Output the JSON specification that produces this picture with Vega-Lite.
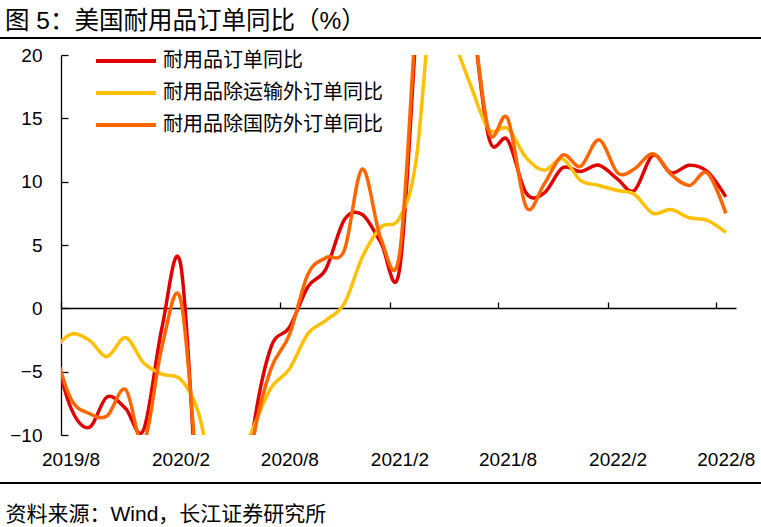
{
  "$schema": "https://vega.github.io/schema/vega-lite/v6.json",
  "autosize": {"type": "none"},
  "padding": {"left": 61, "top": 55, "right": 25, "bottom": 92},
  "width": 675,
  "height": 380,
  "background": "white",
  "title": {
    "text": "图 5：美国耐用品订单同比（%）",
    "anchor": "start",
    "frame": "group",
    "dx": -56,
    "offset": 3,
    "fontSize": 24.5,
    "fontWeight": "normal",
    "font": "'Liberation Sans', 'Noto Sans CJK SC'",
    "color": "black"
  },
  "config": {"view": {"stroke": null}},
  "data": {
    "format": {"parse": {"m": "date:'%Y-%m'"}},
    "values": [
      {"m": "2019-07", "s": "耐用品订单同比", "v": -2.5},
      {"m": "2019-08", "s": "耐用品订单同比", "v": -7.8},
      {"m": "2019-09", "s": "耐用品订单同比", "v": -9.4},
      {"m": "2019-10", "s": "耐用品订单同比", "v": -7.0},
      {"m": "2019-11", "s": "耐用品订单同比", "v": -7.9},
      {"m": "2019-12", "s": "耐用品订单同比", "v": -9.6},
      {"m": "2020-01", "s": "耐用品订单同比", "v": -1.5},
      {"m": "2020-02", "s": "耐用品订单同比", "v": 3.5},
      {"m": "2020-03", "s": "耐用品订单同比", "v": -16},
      {"m": "2020-04", "s": "耐用品订单同比", "v": -34},
      {"m": "2020-05", "s": "耐用品订单同比", "v": -22},
      {"m": "2020-06", "s": "耐用品订单同比", "v": -9.7},
      {"m": "2020-07", "s": "耐用品订单同比", "v": -3.1},
      {"m": "2020-08", "s": "耐用品订单同比", "v": -1.5},
      {"m": "2020-09", "s": "耐用品订单同比", "v": 1.7},
      {"m": "2020-10", "s": "耐用品订单同比", "v": 3.1},
      {"m": "2020-11", "s": "耐用品订单同比", "v": 7.0},
      {"m": "2020-12", "s": "耐用品订单同比", "v": 7.4},
      {"m": "2021-01", "s": "耐用品订单同比", "v": 5.2},
      {"m": "2021-02", "s": "耐用品订单同比", "v": 3.0},
      {"m": "2021-03", "s": "耐用品订单同比", "v": 22},
      {"m": "2021-04", "s": "耐用品订单同比", "v": 45},
      {"m": "2021-05", "s": "耐用品订单同比", "v": 35},
      {"m": "2021-06", "s": "耐用品订单同比", "v": 24},
      {"m": "2021-07", "s": "耐用品订单同比", "v": 13.4},
      {"m": "2021-08", "s": "耐用品订单同比", "v": 13.3},
      {"m": "2021-09", "s": "耐用品订单同比", "v": 9.1},
      {"m": "2021-10", "s": "耐用品订单同比", "v": 9.1},
      {"m": "2021-11", "s": "耐用品订单同比", "v": 11.1},
      {"m": "2021-12", "s": "耐用品订单同比", "v": 10.8},
      {"m": "2022-01", "s": "耐用品订单同比", "v": 11.3},
      {"m": "2022-02", "s": "耐用品订单同比", "v": 10.2},
      {"m": "2022-03", "s": "耐用品订单同比", "v": 9.3},
      {"m": "2022-04", "s": "耐用品订单同比", "v": 12.1},
      {"m": "2022-05", "s": "耐用品订单同比", "v": 10.7},
      {"m": "2022-06", "s": "耐用品订单同比", "v": 11.3},
      {"m": "2022-07", "s": "耐用品订单同比", "v": 10.8},
      {"m": "2022-08", "s": "耐用品订单同比", "v": 8.8},
      {"m": "2019-07", "s": "耐用品除运输外订单同比", "v": -3.5},
      {"m": "2019-08", "s": "耐用品除运输外订单同比", "v": -2.05},
      {"m": "2019-09", "s": "耐用品除运输外订单同比", "v": -2.5},
      {"m": "2019-10", "s": "耐用品除运输外订单同比", "v": -3.8},
      {"m": "2019-11", "s": "耐用品除运输外订单同比", "v": -2.3},
      {"m": "2019-12", "s": "耐用品除运输外订单同比", "v": -4.3},
      {"m": "2020-01", "s": "耐用品除运输外订单同比", "v": -5.2},
      {"m": "2020-02", "s": "耐用品除运输外订单同比", "v": -5.6},
      {"m": "2020-03", "s": "耐用品除运输外订单同比", "v": -8.1},
      {"m": "2020-04", "s": "耐用品除运输外订单同比", "v": -14},
      {"m": "2020-05", "s": "耐用品除运输外订单同比", "v": -13},
      {"m": "2020-06", "s": "耐用品除运输外订单同比", "v": -9.5},
      {"m": "2020-07", "s": "耐用品除运输外订单同比", "v": -6.3},
      {"m": "2020-08", "s": "耐用品除运输外订单同比", "v": -4.8},
      {"m": "2020-09", "s": "耐用品除运输外订单同比", "v": -2.0},
      {"m": "2020-10", "s": "耐用品除运输外订单同比", "v": -0.95},
      {"m": "2020-11", "s": "耐用品除运输外订单同比", "v": 0.4},
      {"m": "2020-12", "s": "耐用品除运输外订单同比", "v": 4.05},
      {"m": "2021-01", "s": "耐用品除运输外订单同比", "v": 6.4},
      {"m": "2021-02", "s": "耐用品除运输外订单同比", "v": 7.1},
      {"m": "2021-03", "s": "耐用品除运输外订单同比", "v": 11.7},
      {"m": "2021-04", "s": "耐用品除运输外订单同比", "v": 26},
      {"m": "2021-05", "s": "耐用品除运输外订单同比", "v": 21.5},
      {"m": "2021-06", "s": "耐用品除运输外订单同比", "v": 17.5},
      {"m": "2021-07", "s": "耐用品除运输外订单同比", "v": 14.1},
      {"m": "2021-08", "s": "耐用品除运输外订单同比", "v": 14.2},
      {"m": "2021-09", "s": "耐用品除运输外订单同比", "v": 11.9},
      {"m": "2021-10", "s": "耐用品除运输外订单同比", "v": 10.9},
      {"m": "2021-11", "s": "耐用品除运输外订单同比", "v": 11.8},
      {"m": "2021-12", "s": "耐用品除运输外订单同比", "v": 10.1},
      {"m": "2022-01", "s": "耐用品除运输外订单同比", "v": 9.7},
      {"m": "2022-02", "s": "耐用品除运输外订单同比", "v": 9.3},
      {"m": "2022-03", "s": "耐用品除运输外订单同比", "v": 9.0},
      {"m": "2022-04", "s": "耐用品除运输外订单同比", "v": 7.5},
      {"m": "2022-05", "s": "耐用品除运输外订单同比", "v": 7.8},
      {"m": "2022-06", "s": "耐用品除运输外订单同比", "v": 7.15},
      {"m": "2022-07", "s": "耐用品除运输外订单同比", "v": 6.95},
      {"m": "2022-08", "s": "耐用品除运输外订单同比", "v": 6.0},
      {"m": "2019-07", "s": "耐用品除国防外订单同比", "v": -2.5},
      {"m": "2019-08", "s": "耐用品除国防外订单同比", "v": -7.1},
      {"m": "2019-09", "s": "耐用品除国防外订单同比", "v": -8.3},
      {"m": "2019-10", "s": "耐用品除国防外订单同比", "v": -8.5},
      {"m": "2019-11", "s": "耐用品除国防外订单同比", "v": -6.4},
      {"m": "2019-12", "s": "耐用品除国防外订单同比", "v": -10.6},
      {"m": "2020-01", "s": "耐用品除国防外订单同比", "v": -3.0},
      {"m": "2020-02", "s": "耐用品除国防外订单同比", "v": 0.7},
      {"m": "2020-03", "s": "耐用品除国防外订单同比", "v": -14},
      {"m": "2020-04", "s": "耐用品除国防外订单同比", "v": -32},
      {"m": "2020-05", "s": "耐用品除国防外订单同比", "v": -22},
      {"m": "2020-06", "s": "耐用品除国防外订单同比", "v": -10.5},
      {"m": "2020-07", "s": "耐用品除国防外订单同比", "v": -4.8},
      {"m": "2020-08", "s": "耐用品除国防外订单同比", "v": -2.1},
      {"m": "2020-09", "s": "耐用品除国防外订单同比", "v": 2.7},
      {"m": "2020-10", "s": "耐用品除国防外订单同比", "v": 4.0},
      {"m": "2020-11", "s": "耐用品除国防外订单同比", "v": 4.6},
      {"m": "2020-12", "s": "耐用品除国防外订单同比", "v": 11.0},
      {"m": "2021-01", "s": "耐用品除国防外订单同比", "v": 5.5},
      {"m": "2021-02", "s": "耐用品除国防外订单同比", "v": 4.2},
      {"m": "2021-03", "s": "耐用品除国防外订单同比", "v": 23},
      {"m": "2021-04", "s": "耐用品除国防外订单同比", "v": 42},
      {"m": "2021-05", "s": "耐用品除国防外订单同比", "v": 33},
      {"m": "2021-06", "s": "耐用品除国防外订单同比", "v": 24},
      {"m": "2021-07", "s": "耐用品除国防外订单同比", "v": 13.9},
      {"m": "2021-08", "s": "耐用品除国防外订单同比", "v": 15.0},
      {"m": "2021-09", "s": "耐用品除国防外订单同比", "v": 8.0},
      {"m": "2021-10", "s": "耐用品除国防外订单同比", "v": 9.8},
      {"m": "2021-11", "s": "耐用品除国防外订单同比", "v": 12.1},
      {"m": "2021-12", "s": "耐用品除国防外订单同比", "v": 11.2},
      {"m": "2022-01", "s": "耐用品除国防外订单同比", "v": 13.3},
      {"m": "2022-02", "s": "耐用品除国防外订单同比", "v": 10.7},
      {"m": "2022-03", "s": "耐用品除国防外订单同比", "v": 11.0},
      {"m": "2022-04", "s": "耐用品除国防外订单同比", "v": 12.2},
      {"m": "2022-05", "s": "耐用品除国防外订单同比", "v": 10.6},
      {"m": "2022-06", "s": "耐用品除国防外订单同比", "v": 9.7},
      {"m": "2022-07", "s": "耐用品除国防外订单同比", "v": 10.7},
      {"m": "2022-08", "s": "耐用品除国防外订单同比", "v": 7.5}
    ]
  },
  "layer": [
    {
      "mark": {"type": "line", "interpolate": "cardinal", "tension": 0, "strokeWidth": 3.5, "clip": true},
      "encoding": {
        "x": {
          "field": "m",
          "type": "temporal",
          "scale": {"domain": [{"year": 2019, "month": 7, "date": 16}, {"year": 2022, "month": 8, "date": 18}]},
          "axis": {
            "orient": "bottom",
            "domain": false,
            "ticks": false,
            "grid": false,
            "values": [
              {"year": 2019, "month": 8, "date": 1},
              {"year": 2020, "month": 2, "date": 1},
              {"year": 2020, "month": 8, "date": 1},
              {"year": 2021, "month": 2, "date": 1},
              {"year": 2021, "month": 8, "date": 1},
              {"year": 2022, "month": 2, "date": 1},
              {"year": 2022, "month": 8, "date": 1}
            ],
            "format": "%Y/%-m",
            "labelFont": "Liberation Sans",
            "labelFontSize": 19,
            "labelColor": "black",
            "labelPadding": 15,
            "labelOverlap": false,
            "labelFlush": false,
            "title": "资料来源：Wind，长江证券研究所",
            "titleFont": "'Liberation Sans', 'Noto Sans CJK SC'",
            "titleFontSize": 21,
            "titleFontWeight": "normal",
            "titleColor": "black",
            "titleAnchor": "start",
            "titleAlign": "left",
            "titleBaseline": "alphabetic",
            "titleX": -56,
            "titleY": 85
          }
        },
        "y": {
          "field": "v",
          "type": "quantitative",
          "scale": {"domain": [-10, 20], "nice": false, "zero": false},
          "axis": {
            "title": null,
            "values": [-10, -5, 0, 5, 10, 15, 20],
            "grid": false,
            "domain": true,
            "domainColor": "black",
            "domainWidth": 1.3,
            "ticks": true,
            "tickSize": -7,
            "tickColor": "black",
            "tickWidth": 1.3,
            "labelFont": "Liberation Sans",
            "labelFontSize": 19,
            "labelColor": "black",
            "labelPadding": 26
          }
        },
        "color": {
          "field": "s",
          "type": "nominal",
          "sort": ["耐用品订单同比", "耐用品除运输外订单同比", "耐用品除国防外订单同比"],
          "scale": {
            "domain": ["耐用品订单同比", "耐用品除运输外订单同比", "耐用品除国防外订单同比"],
            "range": ["#E00000", "#FFC000", "#FF6600"]
          },
          "legend": {
            "title": null,
            "orient": "none",
            "legendX": 53,
            "legendY": -6,
            "padding": 0,
            "symbolType": "M-3,0H3",
            "symbolSize": 400,
            "symbolStrokeWidth": 4,
            "labelOffset": 25,
            "rowPadding": 10,
            "labelFont": "Noto Sans CJK SC",
            "labelFontSize": 20,
            "labelColor": "black",
            "labelLimit": 400
          }
        }
      }
    },
    {
      "mark": {"type": "rule", "clip": false, "color": "black", "strokeWidth": 1.3},
      "encoding": {
        "x": {
          "datum": {"year": 2019, "month": 1, "date": 1},
          "type": "temporal",
          "axis": {
            "orient": "top",
            "offset": -253,
            "labels": false,
            "grid": false,
            "domain": true,
            "domainColor": "black",
            "domainWidth": 1.3,
            "ticks": true,
            "tickSize": 6,
            "tickColor": "black",
            "tickWidth": 1.3,
            "title": null,
            "values": [
              {"year": 2019, "month": 7, "date": 16},
              {"year": 2020, "month": 1, "date": 16},
              {"year": 2020, "month": 7, "date": 16},
              {"year": 2021, "month": 1, "date": 16},
              {"year": 2021, "month": 7, "date": 16},
              {"year": 2022, "month": 1, "date": 16},
              {"year": 2022, "month": 7, "date": 16}
            ]
          }
        },
        "x2": {"datum": {"year": 2022, "month": 12, "date": 31}},
        "y": {"datum": 21.34, "type": "quantitative"}
      }
    },
    {
      "mark": {"type": "rule", "clip": false, "color": "black", "strokeWidth": 1.3},
      "encoding": {
        "x": {"datum": {"year": 2019, "month": 1, "date": 1}, "type": "temporal", "axis": null},
        "x2": {"datum": {"year": 2022, "month": 12, "date": 31}},
        "y": {"datum": -13.79, "type": "quantitative"}
      }
    }
  ],
  "resolve": {"axis": {"x": "independent"}}
}
